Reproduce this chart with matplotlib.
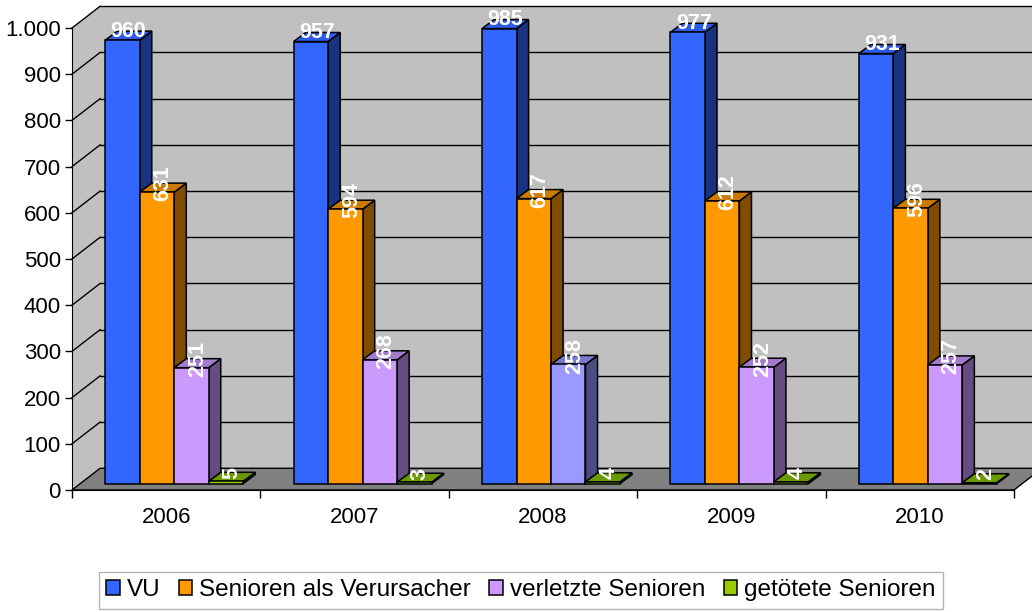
import matplotlib
matplotlib.use("Agg")
import matplotlib.pyplot as plt
from matplotlib.patches import Polygon, Patch

# data
years = ["2006", "2007", "2008", "2009", "2010"]
series_names = ["VU", "Senioren als Verursacher", "verletzte Senioren", "getötete Senioren"]
vu = [960, 957, 985, 977, 931]
verursacher = [631, 594, 617, 612, 596]
verletzte = [251, 268, 258, 252, 257]
getoetete = [5, 3, 4, 4, 2]
series = [vu, verursacher, verletzte, getoetete]

# colours: front, side, top
front_cols = ["#3366FF", "#FF9900", "#CC99FF", "#99CC00"]
side_cols = ["#1A3380", "#7F4C00", "#664C80", "#4C6600"]
top_cols = ["#2E5CE6", "#CC7A00", "#A37ACC", "#6B9900"]
# excel drew the 2008 "verletzte" bar in a different colour
special = {(2, 2): ("#9999FF", "#4C4C80", "#7A7ACC")}

plt.rcParams['font.family'] = ['Liberation Sans', 'DejaVu Sans']

fig = plt.figure(figsize=(10.32, 6.12), dpi=100)
ax = fig.add_axes([72 / 1032, (612 - 490) / 612, (1014 - 72) / 1032, (490 - 28) / 612])
n = len(years)
ax.set_xlim(0, n)
ax.set_ylim(0, 1000)
ax.patch.set_visible(False)

# depth of the 3d box (data units) and of the bars
DX, DY = 0.149, 47
BDX, BDY = 0.064, 19.5
SX, SY = (DX - BDX) / 2, (DY - BDY) / 2
W = 0.183
START = (1 - 4 * W) / 2

# walls and floor
ax.add_patch(Polygon([(DX, DY), (n + DX, DY), (n + DX, 1000 + DY), (DX, 1000 + DY)],
                     closed=True, fc="#C0C0C0", ec="none", clip_on=False, zorder=0))
ax.add_patch(Polygon([(0, 0), (DX, DY), (DX, 1000 + DY), (0, 1000)],
                     closed=True, fc="#C0C0C0", ec="none", clip_on=False, zorder=0))
ax.add_patch(Polygon([(0, 0), (n, 0), (n + DX, DY), (DX, DY)],
                     closed=True, fc="#808080", ec="black", lw=1, clip_on=False, zorder=1))
for v in range(100, 1001, 100):
    ax.plot([DX, n + DX], [v + DY, v + DY], color="black", lw=1, clip_on=False, zorder=0.5)
    ax.plot([0, DX], [v, v + DY], color="black", lw=1, clip_on=False, zorder=0.5)

# bars
z = 2
for i in range(n):
    for j, vals in enumerate(series):
        fc, sc, tc = special.get((i, j), (front_cols[j], side_cols[j], top_cols[j]))
        v = vals[i]
        xl = i + START + j * W + SX
        xr = xl + W
        ax.add_patch(Polygon([(xr, SY), (xr + BDX, SY + BDY), (xr + BDX, SY + v + BDY), (xr, SY + v)],
                             closed=True, fc=sc, ec="black", lw=1.1, clip_on=False, zorder=z))
        ax.add_patch(Polygon([(xl, SY + v), (xr, SY + v), (xr + BDX, SY + v + BDY), (xl + BDX, SY + v + BDY)],
                             closed=True, fc=tc, ec="black", lw=1.1, clip_on=False, zorder=z))
        ax.bar(xl, v, width=W, bottom=SY, align="edge", color=fc, edgecolor="black",
               lw=1.1, zorder=z + 0.01, clip_on=False)
        z += 0.02

# value labels
for i in range(n):
    for j, vals in enumerate(series):
        v = vals[i]
        xc = i + START + j * W + SX + W / 2 + BDX / 2
        yc = SY + v + BDY / 2
        ax.annotate(str(v), (xc, yc), xytext=(0, 3), textcoords="offset points",
                    ha="center", va="center", color="white", fontsize=15.5, fontweight="bold",
                    rotation=0 if j == 0 else 90, zorder=50, annotation_clip=False)

# axes
for s in ["top", "right"]:
    ax.spines[s].set_visible(False)
ax.spines["left"].set_zorder(1.5)
ax.spines["bottom"].set_zorder(1.5)
ax.set_yticks(range(0, 1001, 100))
ax.set_yticklabels([f"{v:,}".replace(",", ".") for v in range(0, 1001, 100)])
ax.tick_params(axis="y", direction="out", length=5, width=1, labelsize=16, pad=3)
ax.set_xticks(range(n + 1))
ax.set_xticklabels([])
ax.tick_params(axis="x", which="major", direction="out", length=6, width=1)
ax.set_xticks([i + 0.5 for i in range(n)], minor=True)
ax.set_xticklabels(years, minor=True)
ax.tick_params(axis="x", which="minor", length=0, labelsize=16, pad=12)

handles = [Patch(fc=c, ec="black", lw=1.1) for c in front_cols]
leg = fig.legend(handles, series_names, loc="upper center", bbox_to_anchor=(521 / 1032, 1 - 572 / 612),
                 ncol=4, fontsize=17.5, frameon=True, fancybox=False, handlelength=0.55,
                 handleheight=0.55, handletextpad=0.3, columnspacing=0.75, borderpad=0.3,
                 borderaxespad=0)
leg.get_frame().set_edgecolor("#A0A0A0")
leg.get_frame().set_linewidth(1)

fig.savefig("out.png", dpi=100)
